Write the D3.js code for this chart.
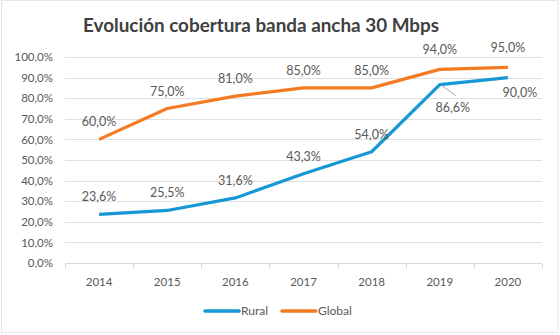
<!DOCTYPE html>
<html>
<head>
<meta charset="utf-8">
<script src="https://cdn.jsdelivr.net/npm/d3@7"></script>
<style>
  html, body { margin: 0; padding: 0; background: #fff; }
  svg text { font-family: Lato, "Open Sans", sans-serif; }
</style>
</head>
<body>
<div id="chart"></div>
<script>
// Data
var years = ['2014', '2015', '2016', '2017', '2018', '2019', '2020'];
var rural = [23.6, 25.5, 31.6, 43.3, 54.0, 86.6, 90.0];
var global = [60.0, 75.0, 81.0, 85.0, 85.0, 94.0, 95.0];
var yTicks = [0, 10, 20, 30, 40, 50, 60, 70, 80, 90, 100];
var seriesNames = ['Rural', 'Global'];

var W = 560, H = 335;
var margins = { top: 57, right: 18, bottom: 72, left: 65 };

var fmt = function(v) { return v.toFixed(1).replace('.', ',') + '%'; };

var svg = d3.select('#chart').append('svg')
    .attr('width', W)
    .attr('height', H);

// outer frame
svg.append('rect')
    .attr('x', 1.5).attr('y', 0.5)
    .attr('width', W - 3.5).attr('height', H - 3)
    .attr('fill', '#fff')
    .attr('stroke', '#e6e6e6');

svg.append('text')
    .attr('x', 261).attr('y', 32)
    .attr('text-anchor', 'middle')
    .attr('font-size', 19)
    .attr('font-weight', 700)
    .attr('fill', '#404040')
    .attr('textLength', 356)
    .attr('lengthAdjust', 'spacingAndGlyphs')
    .text('Evolución cobertura banda ancha 30 Mbps');

var x = d3.scaleBand()
    .domain(years)
    .range([margins.left, W - margins.right]);

var y = d3.scaleLinear()
    .domain([0, 100])
    .range([H - margins.bottom, margins.top]);

var cx = function(i) { return x(years[i]) + x.bandwidth() / 2; };

// gridlines
svg.append('g')
    .selectAll('line')
    .data(yTicks.slice(1))
    .enter().append('line')
    .attr('x1', margins.left).attr('x2', W - margins.right)
    .attr('y1', function(d) { return Math.round(y(d)) + 0.5; })
    .attr('y2', function(d) { return Math.round(y(d)) + 0.5; })
    .attr('stroke', '#e0e0e0')
    .attr('stroke-width', 1);

// y labels
var yAxis = d3.axisLeft(y)
    .tickValues(yTicks)
    .tickSize(0)
    .tickPadding(12)
    .tickFormat(fmt);
var gy = svg.append('g')
    .attr('transform', 'translate(' + margins.left + ',0)')
    .call(yAxis);
gy.select('.domain').remove();
gy.selectAll('text')
    .attr('font-size', 11.5)
    .attr('fill', '#595959');

// x axis
var xAxis = d3.axisBottom(x).tickSize(0).tickPadding(14);
var gx = svg.append('g')
    .attr('transform', 'translate(0,' + (Math.round(y(0)) + 0.5) + ')')
    .call(xAxis);
gx.select('.domain').attr('stroke', '#d9d9d9').attr('d', 'M' + margins.left + ',0H' + (W - margins.right));
gx.selectAll('text')
    .attr('font-size', 11.5)
    .attr('fill', '#595959');
// category boundary ticks
gx.append('g').selectAll('line')
    .data(d3.range(years.length + 1))
    .enter().append('line')
    .attr('x1', function(i) { return Math.round(margins.left + i * x.bandwidth()) + 0.5; })
    .attr('x2', function(i) { return Math.round(margins.left + i * x.bandwidth()) + 0.5; })
    .attr('y1', 0).attr('y2', 5)
    .attr('stroke', '#d9d9d9');

var line = d3.line()
    .x(function(d, i) { return cx(i); })
    .y(function(d) { return y(d); })
    .curve(d3.curveLinear);

var colors = { Rural: '#1598d4', Global: '#f47b22' };

svg.append('path')
    .datum(global)
    .attr('d', line)
    .attr('fill', 'none')
    .attr('stroke', colors.Global)
    .attr('stroke-width', 3.2)
    .attr('stroke-linejoin', 'round');

svg.append('path')
    .datum(rural)
    .attr('d', line)
    .attr('fill', 'none')
    .attr('stroke', colors.Rural)
    .attr('stroke-width', 3.2)
    .attr('stroke-linejoin', 'round');

// data labels
var labelStyle = function(sel) {
    sel.attr('font-size', 12.5)
        .attr('fill', '#595959')
        .attr('text-anchor', 'middle');
};

svg.append('g').selectAll('text')
    .data(global)
    .enter().append('text')
    .attr('x', function(d, i) { return cx(i); })
    .attr('y', function(d, i) { return y(d) - (i >= 5 ? 15 : 13); })
    .call(labelStyle)
    .text(fmt);

svg.append('g').selectAll('text')
    .data(rural)
    .enter().append('text')
    .attr('x', function(d, i) {
        if (i === 5) return cx(i) + 13;
        if (i === 6) return cx(i) + 12;
        return cx(i);
    })
    .attr('y', function(d, i) {
        if (i === 5) return y(d) + 27;
        if (i === 6) return y(d) + 19;
        return y(d) - 13;
    })
    .call(labelStyle)
    .text(fmt);

// leader line for 2019 rural label
svg.append('line')
    .attr('x1', cx(5) + 2).attr('y1', y(rural[5]) + 1)
    .attr('x2', cx(5) + 16).attr('y2', y(rural[5]) + 11)
    .attr('stroke', '#a6a6a6')
    .attr('stroke-width', 1);

// legend
var legend = svg.append('g')
    .attr('transform', 'translate(205,311)');
var legendX = [0, 77];
seriesNames.forEach(function(name, i) {
    var g = legend.append('g').attr('transform', 'translate(' + legendX[i] + ',0)');
    g.append('line')
        .attr('x1', 0).attr('x2', 34)
        .attr('y1', 0).attr('y2', 0)
        .attr('stroke', colors[name])
        .attr('stroke-width', 3.5)
        .attr('stroke-linecap', 'round');
    g.append('text')
        .attr('x', 36).attr('y', 4)
        .attr('font-size', 12)
        .attr('fill', '#595959')
        .text(name);
});
</script>
</body>
</html>
